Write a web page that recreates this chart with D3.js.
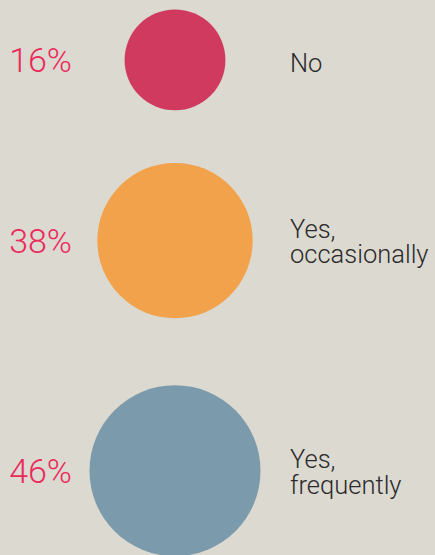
<!DOCTYPE html>
<meta charset="utf-8">
<head>
    <script src="https://d3js.org/d3.v7.min.js"></script>
</head>
<style>
    html, body { margin: 0; padding: 0; background: #dcd9d1; }
    svg { display: block; }
</style>
<body>
    <div id="svg_div"></div>
</body>
<script>

    // answers, shares (%) and circle colours
    var answers = [["No"], ["Yes,", "occasionally"], ["Yes,", "frequently"]];
    var shares = [16, 38, 46];
    var circle_colors = ["#cf3a5e", "#f1a24a", "#7b9aab"];

    var width = 435, height = 555;
    var cx = 175;

    var svg = d3.select("#svg_div").append("svg")
        .attr("width", width)
        .attr("height", height);

    svg.append("rect")
        .attr("width", width)
        .attr("height", height)
        .attr("fill", "#dcd9d1");

    // circle area proportional to share
    var r = d3.scaleSqrt()
        .domain([0, d3.max(shares)])
        .range([0, 85.5]);

    // stack the circles, spacing grows with the radii
    var centers = [];
    shares.forEach(function (v, i) {
        if (i === 0) centers.push(9.5 + r(v));
        else centers.push(centers[i - 1] + 1.41 * (r(shares[i - 1]) + r(v)));
    });

    var rows = svg.selectAll(".row")
        .data(shares)
        .enter().append("g")
        .attr("class", "row")
        .attr("transform", function (d, i) { return "translate(0," + centers[i] + ")"; });

    rows.append("circle")
        .attr("cx", cx)
        .attr("cy", 0)
        .attr("r", function (d) { return r(d); })
        .attr("fill", function (d, i) { return circle_colors[i]; });

    // percentage on the left
    rows.append("text")
        .attr("x", 72)
        .attr("y", 12)
        .attr("text-anchor", "end")
        .attr("font-family", "Roboto")
        .attr("font-weight", 300)
        .attr("font-size", 34)
        .attr("fill", "#ea2a5b")
        .text(function (d) { return d + "%"; });

    // answer label on the right, one text per line
    var line_h = 25.6;
    rows.each(function (d, i) {
        var lines = answers[i];
        var off = lines.length === 1 ? 12 : 10;
        d3.select(this).selectAll(".lbl")
            .data(lines)
            .enter().append("text")
            .attr("class", "lbl")
            .attr("x", 290)
            .attr("y", function (l, j) { return (j - (lines.length - 1) / 2) * line_h + off; })
            .attr("font-family", "Roboto")
            .attr("font-weight", 300)
            .attr("font-size", 25.5)
            .attr("fill", "#2a2a2a")
            .text(function (l) { return l; });
    });

</script>
